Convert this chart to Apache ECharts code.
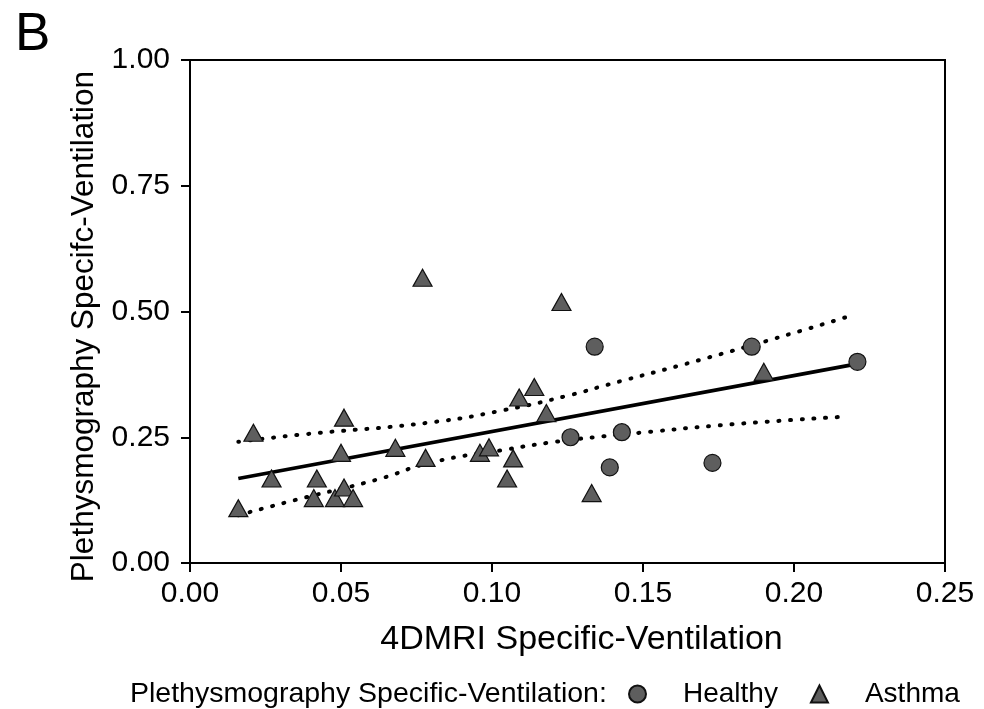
<!DOCTYPE html>
<html>
<head>
<meta charset="utf-8">
<script src="https://cdn.jsdelivr.net/npm/echarts@6/dist/echarts.min.js"></script>
<style>
  html, body { margin: 0; padding: 0; background: #fff; }
  #chart { width: 984px; height: 709px; }
</style>
</head>
<body>
<div id="chart"></div>
<script>
// values
const healthyX = [0.126, 0.134, 0.139, 0.143, 0.173, 0.186, 0.221];
const healthyY = [0.250, 0.430, 0.190, 0.260, 0.199, 0.430, 0.400];

const asthmaX = [0.016, 0.021, 0.027, 0.041, 0.042, 0.048, 0.050, 0.051, 0.051, 0.054,
                 0.068, 0.077, 0.078, 0.096, 0.099, 0.105, 0.107, 0.109, 0.114, 0.118,
                 0.123, 0.133, 0.190];
const asthmaY = [0.109, 0.259, 0.168, 0.129, 0.168, 0.129, 0.219, 0.150, 0.289, 0.129,
                 0.229, 0.567, 0.209, 0.219, 0.230, 0.168, 0.208, 0.329, 0.350, 0.298,
                 0.519, 0.139, 0.380];

const fitX = [0.016, 0.220];
const fitY = [0.168, 0.395];

const upperX = [0.016, 0.038, 0.079, 0.104, 0.126, 0.138, 0.169, 0.202, 0.219];
const upperY = [0.241, 0.256, 0.279, 0.304, 0.334, 0.354, 0.404, 0.461, 0.492];

const lowerX = [0.016, 0.036, 0.062, 0.080, 0.105, 0.121, 0.137, 0.149, 0.180, 0.217];
const lowerY = [0.095, 0.127, 0.166, 0.200, 0.226, 0.241, 0.252, 0.259, 0.276, 0.291];

const xTicks = [0, 0.05, 0.10, 0.15, 0.20, 0.25];
const yTicks = [0, 0.25, 0.50, 0.75, 1.00];

function pairs(xs, ys) {
  return xs.map((x, i) => [x, ys[i]]);
}

const font = 'Liberation Sans, Arial, sans-serif';
const markFill = '#5e5e5e';

const chart = echarts.init(document.getElementById('chart'));
chart.setOption({
  animation: false,
  backgroundColor: '#fff',
  textStyle: { fontFamily: font, color: '#000' },
  grid: {
    left: 190, right: 39, top: 60, bottom: 146,
    show: true, borderColor: '#000', borderWidth: 2, backgroundColor: 'transparent'
  },
  graphic: [
    {
      type: 'text', left: 15, top: 9,
      style: { text: 'B', font: '53px ' + font, fill: '#000' }
    },
    {
      type: 'text', left: 130, top: 680,
      style: { text: 'Plethysmography Specific-Ventilation:', font: '28.5px ' + font, fill: '#000' }
    }
  ],
  legend: {
    left: 623, top: 675,
    itemWidth: 17, itemHeight: 17, itemGap: 32,
    textStyle: { fontSize: 28, fontFamily: font, color: '#000', padding: [0, 0, 0, 32] },
    data: [
      { name: 'Healthy', icon: 'circle' },
      { name: 'Asthma', icon: 'triangle' }
    ]
  },
  xAxis: {
    type: 'value', min: 0, max: 0.25, interval: 0.05,
    name: '4DMRI Specific-Ventilation', nameLocation: 'middle', nameGap: 60,
    nameTextStyle: { fontSize: 34, fontFamily: font, color: '#000', padding: [0, 0, 0, 28] },
    axisLine: { show: true, onZero: false, lineStyle: { color: '#000', width: 2 } },
    axisTick: { show: true, inside: false, length: 9, lineStyle: { color: '#000', width: 2 } },
    axisLabel: {
      margin: 16, fontSize: 30, color: '#000', fontFamily: font,
      formatter: v => xTicks.some(t => Math.abs(t - v) < 1e-9) ? v.toFixed(2) : ''
    },
    splitLine: { show: false }
  },
  yAxis: {
    type: 'value', min: 0, max: 1, interval: 0.25,
    name: 'Plethysmography Specifc-Ventilation', nameLocation: 'middle', nameGap: 89,
    nameTextStyle: { fontSize: 31.5, fontFamily: font, color: '#000', padding: [0, 30, 0, 0] },
    axisLine: { show: true, onZero: false, lineStyle: { color: '#000', width: 2 } },
    axisTick: { show: true, inside: false, length: 9, lineStyle: { color: '#000', width: 2 } },
    axisLabel: {
      margin: 20, fontSize: 30, color: '#000', fontFamily: font,
      formatter: v => yTicks.some(t => Math.abs(t - v) < 1e-9) ? v.toFixed(2) : ''
    },
    splitLine: { show: false }
  },
  series: [
    {
      name: 'upper', type: 'line', smooth: true, showSymbol: false, silent: true,
      data: pairs(upperX, upperY),
      lineStyle: { color: '#000', width: 4, type: [1, 10.7], cap: 'round' }
    },
    {
      name: 'lower', type: 'line', smooth: true, showSymbol: false, silent: true,
      data: pairs(lowerX, lowerY),
      lineStyle: { color: '#000', width: 4, type: [1, 10.7], cap: 'round' }
    },
    {
      name: 'fit', type: 'line', showSymbol: false, silent: true,
      data: pairs(fitX, fitY),
      lineStyle: { color: '#000', width: 3.8 }
    },
    {
      name: 'Healthy', type: 'scatter', symbol: 'circle', symbolSize: 17, z: 5,
      data: pairs(healthyX, healthyY),
      itemStyle: { color: markFill, borderColor: '#111', borderWidth: 1.2, opacity: 1 }
    },
    {
      name: 'Asthma', type: 'scatter', symbol: 'triangle', symbolSize: [19, 17], z: 5,
      data: pairs(asthmaX, asthmaY),
      itemStyle: { color: markFill, borderColor: '#111', borderWidth: 1.2, opacity: 1 }
    }
  ]
});
</script>
</body>
</html>
